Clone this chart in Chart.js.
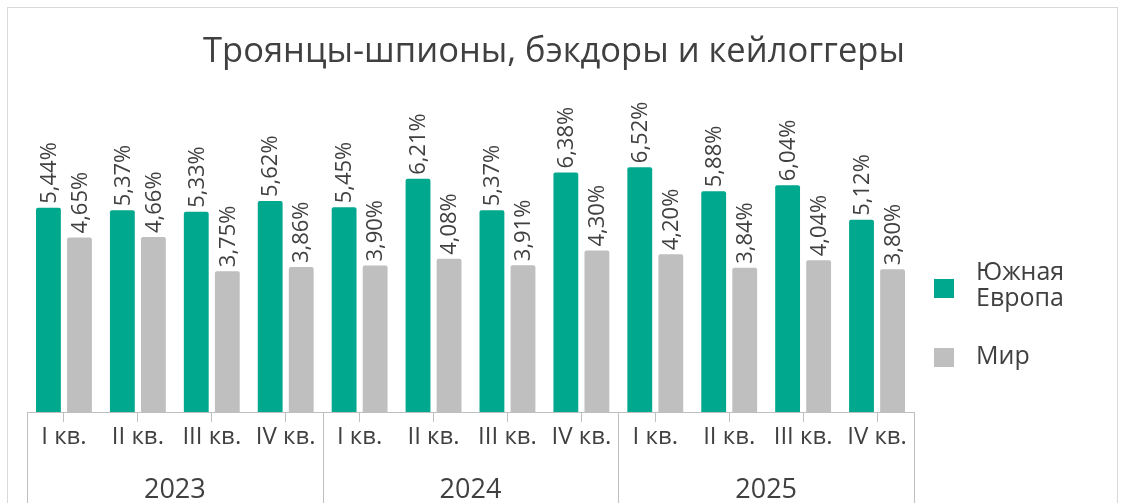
<!DOCTYPE html>
<html>
<head>
<meta charset="utf-8">
<script src="https://cdn.jsdelivr.net/npm/chart.js@4"></script>
<style>
html,body{margin:0;padding:0;background:#fff;}
#wrap{position:relative;width:1122px;height:503px;overflow:hidden;}
</style>
</head>
<body>
<div id="wrap"><canvas id="c" width="1122" height="503"></canvas></div>
<script>
const quarterLabels = ['I кв.','II кв.','III кв.','IV кв.','I кв.','II кв.','III кв.','IV кв.','I кв.','II кв.','III кв.','IV кв.'];
const years = ['2023','2024','2025'];
const southEurope = [5.44, 5.37, 5.33, 5.62, 5.45, 6.21, 5.37, 6.38, 6.52, 5.88, 6.04, 5.12];
const world = [4.65, 4.66, 3.75, 3.86, 3.90, 4.08, 3.91, 4.30, 4.20, 3.84, 4.04, 3.80];
const seriesNames = ['Южная Европа', 'Мир'];
const titleText = 'Троянцы-шпионы, бэкдоры и кейлоггеры';

const FONT = '"Open Sans", sans-serif';
const TEXT = '#404040';
const GREEN = '#00A88E';
const GRAY = '#BFBFBF';
const AXIS = '#BFBFBF';

const framePlugin = {
  id: 'frame',
  beforeDraw(chart) {
    const ctx = chart.ctx;
    ctx.save();
    ctx.fillStyle = '#fff';
    ctx.fillRect(0, 0, chart.width, chart.height);
    ctx.strokeStyle = '#D9D9D9';
    ctx.lineWidth = 1;
    ctx.strokeRect(7.5, 7.5, 1110, 600);
    ctx.restore();
  }
};

const centeredTitle = {
  id: 'centeredTitle',
  afterDraw(chart) {
    const ctx = chart.ctx;
    ctx.save();
    ctx.font = '34.5px ' + FONT;
    ctx.fillStyle = TEXT;
    ctx.textAlign = 'center';
    ctx.textBaseline = 'alphabetic';
    ctx.fillText(titleText, 554, 62);
    ctx.restore();
  }
};

const valueLabels = {
  id: 'valueLabels',
  afterDatasetsDraw(chart) {
    const ctx = chart.ctx;
    chart.data.datasets.forEach((ds, i) => {
      const meta = chart.getDatasetMeta(i);
      meta.data.forEach((bar, j) => {
        const txt = ds.data[j].toFixed(2).replace('.', ',') + '%';
        ctx.save();
        ctx.translate(bar.x + 1, bar.y - 4);
        ctx.rotate(-Math.PI / 2);
        ctx.font = '22px ' + FONT;
        ctx.fillStyle = TEXT;
        ctx.textAlign = 'left';
        ctx.textBaseline = 'middle';
        ctx.fillText(txt, 0, 0);
        ctx.restore();
      });
    });
  }
};

const groupSeparators = {
  id: 'groupSeparators',
  afterDraw(chart) {
    const xs = chart.scales.x;
    const ctx = chart.ctx;
    const n = years.length;
    const w = (xs.right - xs.left) / n;
    ctx.save();
    ctx.strokeStyle = AXIS;
    ctx.lineWidth = 1;
    for (let i = 0; i <= n; i++) {
      const x = Math.round(xs.left + i * w) + 0.5;
      ctx.beginPath();
      ctx.moveTo(x, xs.top);
      ctx.lineTo(x, chart.height);
      ctx.stroke();
    }
    ctx.restore();
  }
};

const sideLegend = {
  id: 'sideLegend',
  afterDraw(chart) {
    const ctx = chart.ctx;
    const centers = [286, 357];
    const lh = 25.5;
    ctx.save();
    ctx.font = '25px ' + FONT;
    ctx.textAlign = 'left';
    ctx.textBaseline = 'middle';
    chart.data.datasets.forEach((ds, i) => {
      const cy = centers[i];
      ctx.fillStyle = ds.backgroundColor;
      ctx.fillRect(934, cy - 9 + (i === 0 ? 2 : 0), 20, 19);
      const lines = ds.label.split(' ');
      ctx.fillStyle = TEXT;
      lines.forEach((ln, k) => {
        ctx.fillText(ln, 976, cy - (lines.length - 1) * lh / 2 + k * lh);
      });
    });
    ctx.restore();
  }
};

function build() {
  Chart.defaults.font.family = FONT;
  Chart.defaults.color = TEXT;
  new Chart(document.getElementById('c'), {
    type: 'bar',
    data: {
      labels: quarterLabels,
      datasets: [
        { label: seriesNames[0], data: southEurope, backgroundColor: GREEN, borderRadius: 2,
          categoryPercentage: 0.84, barPercentage: 0.8 },
        { label: seriesNames[1], data: world, backgroundColor: GRAY, borderRadius: 2,
          categoryPercentage: 0.84, barPercentage: 0.8 }
      ]
    },
    options: {
      responsive: false,
      animation: false,
      devicePixelRatio: 1,
      layout: { padding: { left: 27, right: 208, top: 96.6, bottom: 0 } },
      plugins: {
        legend: { display: false },
        tooltip: { enabled: false },
        title: { display: false }
      },
      scales: {
        x: {
          offset: true,
          weight: 0,
          grid: { offset: false, drawOnChartArea: false, drawTicks: true, tickLength: 10, color: AXIS, lineWidth: 1 },
          border: { display: true, color: AXIS, width: 1 },
          ticks: { font: { size: 24 }, color: TEXT, padding: 1, maxRotation: 0, autoSkip: false },
          afterFit: s => { s.height = 49; }
        },
        x2: {
          type: 'category',
          labels: years,
          position: 'bottom',
          offset: true,
          weight: 1,
          grid: { display: false, drawTicks: false },
          border: { display: false },
          ticks: { font: { size: 27 }, color: TEXT, padding: 13, maxRotation: 0 },
          afterFit: s => { s.height = 42; }
        },
        y: { display: false, min: 0, max: 8.4 }
      }
    },
    plugins: [framePlugin, centeredTitle, valueLabels, groupSeparators, sideLegend]
  });
}

const fontLoads = ['22px "Open Sans"', '24px "Open Sans"', '34px "Open Sans"'].map(f => document.fonts.load(f, 'Тр12'));
Promise.all(fontLoads).then(build, build);
</script>
</body>
</html>
